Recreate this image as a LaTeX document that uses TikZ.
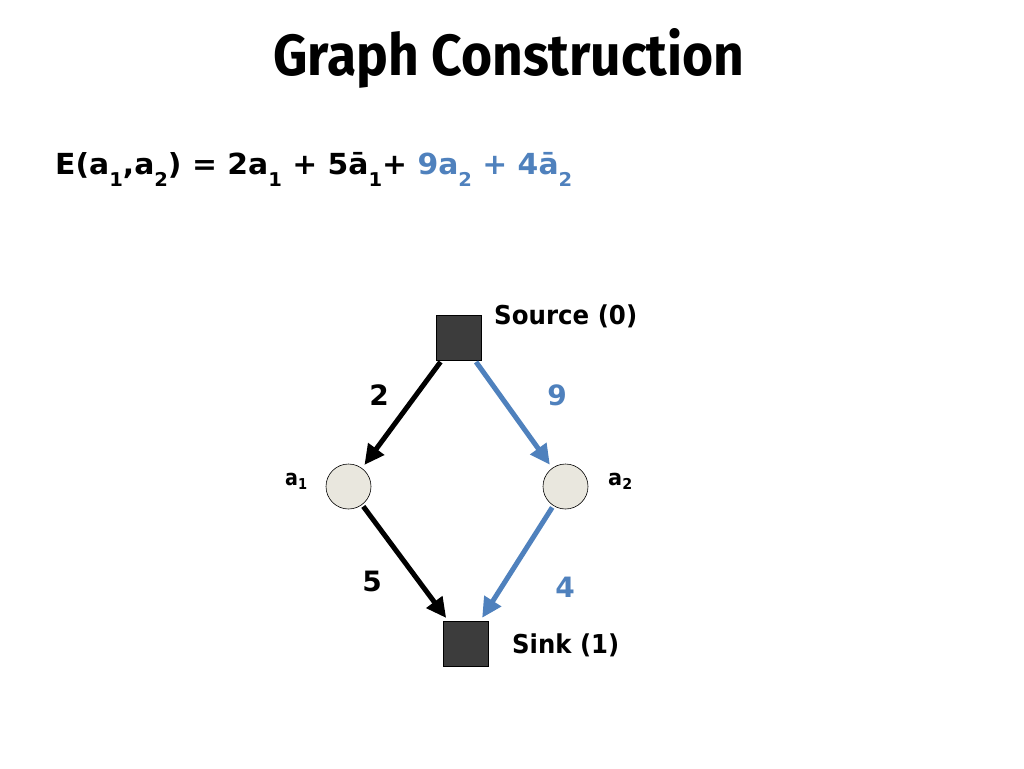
\documentclass[tikz,border=0pt]{standalone}
\usepackage{fontspec}
\setmainfont{DejaVu Sans}
\newfontfamily\titlefont{Fira Sans}
\usepackage{graphicx}
\usetikzlibrary{arrows.meta}
\definecolor{eblue}{RGB}{79,129,189}
\definecolor{sqfill}{RGB}{60,60,60}
\definecolor{cfill}{RGB}{233,231,222}
\newcommand\fitw[2]{\resizebox{#1}{\height}{#2}}
\newcommand\eqsub[1]{\raisebox{-12pt}{\fontsize{19}{19}\selectfont #1}}
\newcommand\lbsub[1]{\raisebox{-4pt}{\fontsize{15}{15}\selectfont #1}}
\tikzset{
  termbox/.style={draw=black, line width=0.6pt, fill=sqfill, minimum size=45pt, inner sep=0pt},
  varnode/.style={circle, draw=black, line width=0.6pt, fill=cfill, minimum size=45pt, inner sep=0pt},
  edgebase/.style={line width=5pt, -{Triangle[length=20pt,width=19pt]}, shorten >=4pt, shorten <=2pt},
  edgeblack/.style={edgebase, black},
  edgeblue/.style={edgebase, eblue},
  txt/.style={inner sep=0pt, anchor=base west, font=\bfseries},
  wnum/.style={inner sep=0pt, font=\fontsize{28}{28}\selectfont\bfseries}
}
\begin{document}
\begin{tikzpicture}[x=1pt,y=-1pt]
\useasboundingbox[fill=white] (0,0) rectangle (1024,768);
% title
\node[txt, font=\fontsize{58}{58}\titlefont\bfseries] (title) at (273,75) {\fitw{471pt}{Graph Construction}};
% equation
\node[txt, font=\fontsize{29}{29}\selectfont\bfseries] (eq) at (55,174) {\fitw{517pt}{E(a\eqsub{1},a\eqsub{2}) = 2a\eqsub{1} + 5ā\eqsub{1}+ \textcolor{eblue}{9a\eqsub{2} + 4ā\eqsub{2}}}};
% nodes
\node[termbox] (src) at (458.5,337.5) {};
\node[termbox] (snk) at (465.5,644) {};
\node[varnode] (a1) at (348.5,486.5) {};
\node[varnode] (a2) at (565.5,486.5) {};
% node labels
\node[txt, font=\fontsize{26}{26}\selectfont\bfseries] (srclab) at (494,324) {\fitw{143pt}{Source (0)}};
\node[txt, font=\fontsize{26}{26}\selectfont\bfseries] (snklab) at (512,653) {\fitw{107pt}{Sink (1)}};
\node[txt, font=\fontsize{22}{22}\selectfont\bfseries] (a1lab) at (285,485) {\fitw{22pt}{a\lbsub{1}}};
\node[txt, font=\fontsize{22}{22}\selectfont\bfseries] (a2lab) at (608,485) {\fitw{24pt}{a\lbsub{2}}};
% edges
\draw[edgeblack] (src) -- (a1);
\draw[edgeblue] (src) -- (a2);
\draw[edgeblack] (a1) -- (snk);
\draw[edgeblue] (a2) -- (snk);
% edge weights
\node[wnum] (w2) at (379,395) {2};
\node[wnum, text=eblue] (w9) at (557,395) {9};
\node[wnum] (w5) at (372,581) {5};
\node[wnum, text=eblue] (w4) at (565,587) {4};
\end{tikzpicture}
\end{document}
